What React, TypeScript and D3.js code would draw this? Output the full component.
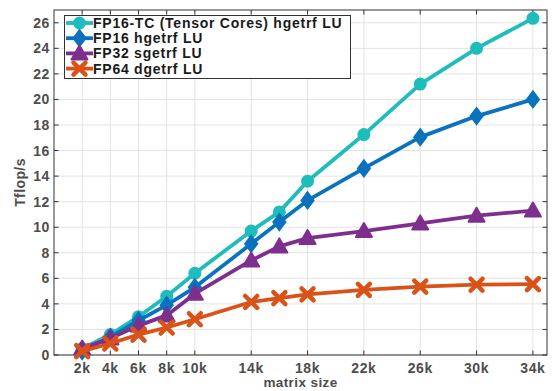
import { useEffect, useRef } from "react";
import * as d3 from "d3";

const sizes = [2, 4, 6, 8, 10, 14, 16, 18, 22, 26, 30, 34];
const xTicks = [2, 4, 6, 8, 10, 14, 18, 22, 26, 30, 34];
const yTicks = [0, 2, 4, 6, 8, 10, 12, 14, 16, 18, 20, 22, 24, 26];

const fp16tc = [0.5, 1.6, 3.0, 4.6, 6.4, 9.7, 11.2, 13.6, 17.25, 21.2, 24.0, 26.35];
const fp16 = [0.3, 1.4, 2.7, 3.9, 5.3, 8.7, 10.4, 12.1, 14.6, 17.05, 18.7, 20.0];
const fp32 = [0.5, 1.3, 2.3, 3.1, 4.8, 7.4, 8.5, 9.15, 9.7, 10.3, 10.9, 11.3];
const fp64 = [0.3, 0.9, 1.6, 2.15, 2.8, 4.15, 4.45, 4.75, 5.1, 5.35, 5.5, 5.55];

const series = [
  { name: "FP16-TC (Tensor Cores) hgetrf LU", values: fp16tc, color: "#1fbcbc", marker: "circle" },
  { name: "FP16 hgetrf LU", values: fp16, color: "#0b72bd", marker: "diamond" },
  { name: "FP32 sgetrf LU", values: fp32, color: "#7e2f8e", marker: "triangle" },
  { name: "FP64 dgetrf LU", values: fp64, color: "#d95319", marker: "cross" },
];

function drawMarker(g, kind, x, y, color) {
  if (kind === "circle") {
    g.append("circle").attr("cx", x).attr("cy", y).attr("r", 5.5).attr("fill", color).attr("stroke", color).attr("stroke-width", 2);
  } else if (kind === "diamond") {
    g.append("path")
      .attr("d", `M${x},${y - 8}L${x + 6},${y}L${x},${y + 8}L${x - 6},${y}Z`)
      .attr("fill", color)
      .attr("stroke", color)
      .attr("stroke-width", 2);
  } else if (kind === "triangle") {
    g.append("path")
      .attr("d", `M${x},${y - 8}L${x + 8},${y + 6}L${x - 8},${y + 6}Z`)
      .attr("fill", color)
      .attr("stroke", color)
      .attr("stroke-width", 2)
      .attr("stroke-linejoin", "round");
  } else {
    g.append("path")
      .attr("d", `M${x - 6},${y - 6}L${x + 6},${y + 6}M${x - 6},${y + 6}L${x + 6},${y - 6}`)
      .attr("stroke", color)
      .attr("stroke-width", 4.5)
      .attr("stroke-linecap", "round");
  }
}

function renderChart(el) {
  const w = 556,
    h = 391,
    margin = { top: 10, right: 9, bottom: 36, left: 54 };
  const svg = d3.select(el);
  svg.selectAll("*").remove();
  svg.attr("width", w).attr("height", h);

  const x = d3.scaleLinear().domain([0, 35]).range([margin.left, w - margin.right]);
  const y = d3.scaleLinear().domain([0, 27]).range([h - margin.bottom, margin.top]);
  const font = "'Liberation Sans', Arial, sans-serif";

  svg.append("rect").attr("width", w).attr("height", h).attr("fill", "#fff");

  // grid
  const grid = svg.append("g").attr("stroke", "#e3e3e3").attr("stroke-width", 1);
  xTicks.forEach((t) => {
    grid.append("line").attr("x1", x(t)).attr("x2", x(t)).attr("y1", y(0)).attr("y2", y(27));
  });
  yTicks.forEach((t) => {
    grid.append("line").attr("x1", x(0)).attr("x2", x(35)).attr("y1", y(t)).attr("y2", y(t));
  });

  // axes box
  const axisColor = "#333";
  svg
    .append("rect")
    .attr("x", x(0))
    .attr("y", y(27))
    .attr("width", x(35) - x(0))
    .attr("height", y(0) - y(27))
    .attr("fill", "none")
    .attr("stroke", axisColor)
    .attr("stroke-width", 1);

  const ticks = svg.append("g").attr("stroke", axisColor).attr("stroke-width", 1);
  xTicks.forEach((t) => {
    ticks.append("line").attr("x1", x(t)).attr("x2", x(t)).attr("y1", y(0)).attr("y2", y(0) - 4.5);
    ticks.append("line").attr("x1", x(t)).attr("x2", x(t)).attr("y1", y(27)).attr("y2", y(27) + 4.5);
  });
  yTicks.forEach((t) => {
    ticks.append("line").attr("x1", x(0)).attr("x2", x(0) + 4.5).attr("y1", y(t)).attr("y2", y(t));
    ticks.append("line").attr("x1", x(35)).attr("x2", x(35) - 4.5).attr("y1", y(t)).attr("y2", y(t));
  });

  const labels = svg
    .append("g")
    .attr("font-family", font)
    .attr("font-weight", "bold")
    .attr("font-size", 14)
    .attr("letter-spacing", 0.6)
    .attr("fill", "#4d4d4d");
  xTicks.forEach((t) => {
    labels.append("text").attr("x", x(t)).attr("y", y(0) + 17.5).attr("text-anchor", "middle").text(`${t}k`);
  });
  yTicks.forEach((t) => {
    labels.append("text").attr("x", x(0) - 4).attr("y", y(t) + 5).attr("text-anchor", "end").text(t);
  });
  svg
    .append("text")
    .attr("x", (x(0) + x(35)) / 2)
    .attr("y", h - 4)
    .attr("text-anchor", "middle")
    .attr("font-family", font)
    .attr("font-weight", "bold")
    .attr("font-size", 13.5)
    .attr("letter-spacing", 0.4)
    .attr("fill", "#4d4d4d")
    .text("matrix size");
  svg
    .append("text")
    .attr("transform", `translate(25,${(y(0) + y(27)) / 2}) rotate(-90)`)
    .attr("text-anchor", "middle")
    .attr("font-family", font)
    .attr("font-weight", "bold")
    .attr("font-size", 14)
    .attr("letter-spacing", 0.4)
    .attr("fill", "#4d4d4d")
    .text("Tflop/s");

  // lines and markers
  const line = d3
    .line()
    .x((d) => x(d[0]))
    .y((d) => y(d[1]));
  series.forEach((s) => {
    const pts = sizes.map((sz, i) => [sz, s.values[i]]);
    svg
      .append("path")
      .datum(pts)
      .attr("d", line)
      .attr("fill", "none")
      .attr("stroke", s.color)
      .attr("stroke-width", 3.8)
      .attr("stroke-linejoin", "round");
    const mg = svg.append("g");
    pts.forEach((p) => drawMarker(mg, s.marker, x(p[0]), y(p[1]), s.color));
  });

  // legend
  const lg = svg.append("g");
  lg.append("rect").attr("x", 64.5).attr("y", 15.5).attr("width", 286).attr("height", 63).attr("fill", "#fff").attr("stroke", axisColor).attr("stroke-width", 1);
  series.forEach((s, i) => {
    const ly = 23 + i * 15.2;
    lg.append("line").attr("x1", 66).attr("x2", 93).attr("y1", ly).attr("y2", ly).attr("stroke", s.color).attr("stroke-width", 3.8);
    drawMarker(lg, s.marker, 79.5, ly, s.color);
    lg.append("text")
      .attr("x", 93)
      .attr("y", ly + 5)
      .attr("font-family", font)
      .attr("font-weight", "bold")
      .attr("font-size", 14)
      .attr("letter-spacing", 0.75)
      .attr("fill", "#1a1a1a")
      .text(s.name);
  });
}

export default function App() {
  const ref = useRef(null);
  useEffect(() => {
    if (ref.current) renderChart(ref.current);
  }, []);
  return <svg ref={ref} style={{ position: "absolute", left: 0, top: 0, display: "block" }} />;
}
